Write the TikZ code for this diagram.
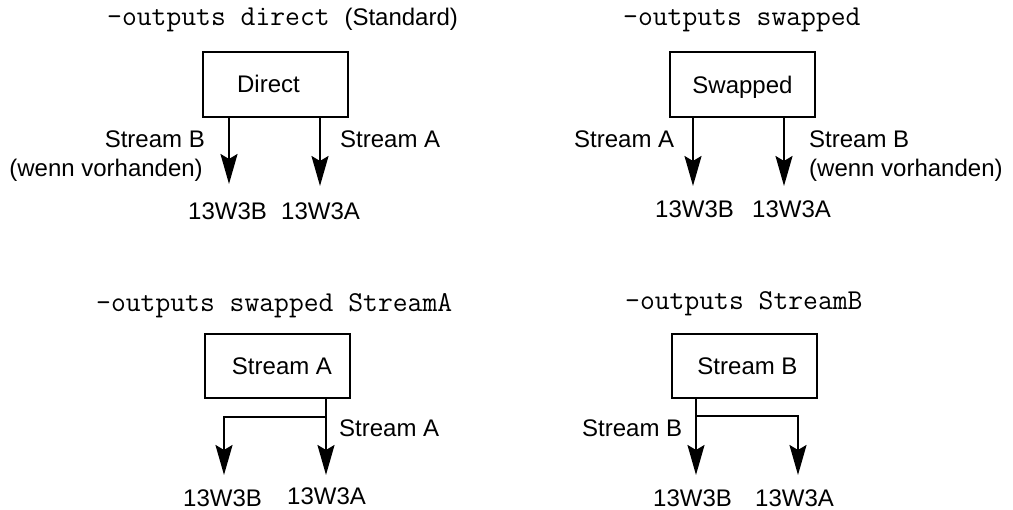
\documentclass[tikz,border=0pt]{standalone}
\usepackage{fontspec}
\setmainfont{Liberation Sans}
\usetikzlibrary{arrows.meta}
\newcommand{\monofnt}{\fontsize{28.8}{30}\selectfont\ttfamily}
\begin{document}
\begin{tikzpicture}[x=1pt,y=-1pt,
  txt/.style={inner sep=0pt, font=\fontsize{24}{28}\selectfont},
  ttl/.style={inner sep=0pt, anchor=base west, font=\fontsize{24}{28}\selectfont},
  mono/.style={font=\monofnt},
  boxnode/.style={draw, line width=2pt, minimum width=145pt, minimum height=65pt, inner sep=0pt,
    text height=17pt, text depth=0pt, font=\fontsize{24}{28}\selectfont},
  arr/.style={line width=2pt, -{Stealth[length=30pt,width=17pt,inset=5pt]}},
  ln/.style={line width=2pt}
]
\useasboundingbox (0,0) rectangle (1013,510);

% ---------- Panel 1: direct ----------
\node[ttl] (t1) at (107,26) {{\monofnt -outputs direct }(Standard)};
\node[boxnode] (b1) at (275.5,84.5) {Direct\kern14pt};
\coordinate (p1b) at (229,184);
\coordinate (p1a) at (320,186);
\draw[arr] (b1.south -| p1b) -- (p1b);
\draw[arr] (b1.south -| p1a) -- (p1a);
\node[txt, anchor=base east] (l1b) at (205,148) {Stream B};
\node[txt, anchor=base east] (l1w) at (203,177) {(wenn vorhanden)};
\node[txt, anchor=base west] (l1a) at (340,148) {Stream A};
\node[txt, anchor=base west] (o1b) at (188,220) {13W3B};
\node[txt, anchor=base west] (o1a) at (281,220) {13W3A};

% ---------- Panel 2: swapped ----------
\node[ttl, mono] (t2) at (623,26) {-outputs swapped};
\node[boxnode] (b2) at (742.5,85) {Swapped};
\coordinate (p2b) at (693,186);
\coordinate (p2a) at (784,186);
\draw[arr] (b2.south -| p2b) -- (p2b);
\draw[arr] (b2.south -| p2a) -- (p2a);
\node[txt, anchor=base west] (l2a) at (574,148) {Stream A};
\node[txt, anchor=base west] (l2b) at (809,148) {Stream B};
\node[txt, anchor=base west] (l2w) at (809,177) {(wenn vorhanden)};
\node[txt, anchor=base west] (o2b) at (655,218) {13W3B};
\node[txt, anchor=base west] (o2a) at (752,218) {13W3A};

% ---------- Panel 3: swapped StreamA ----------
\node[ttl, mono] (t3) at (96,312) {-outputs swapped StreamA};
\node[boxnode, minimum height=64pt] (b3) at (277.5,366) {\hspace{9pt}Stream A};
\coordinate (p3a) at (326,475);
\coordinate (p3j) at (326,417);
\coordinate (p3b) at (224,475);
\draw[arr] (b3.south -| p3a) -- (p3a);
\draw[arr] (p3j) -| (p3b);
\node[txt, anchor=base west] (l3a) at (339,437) {Stream A};
\node[txt, anchor=base west] (o3b) at (183,507) {13W3B};
\node[txt, anchor=base west] (o3a) at (287,505) {13W3A};

% ---------- Panel 4: StreamB ----------
\node[ttl, mono] (t4) at (625,310) {-outputs StreamB};
\node[boxnode, minimum height=64pt] (b4) at (744.5,366) {\hspace{6pt}Stream B};
\coordinate (p4b) at (696,475);
\coordinate (p4j) at (696,416);
\coordinate (p4a) at (798,475);
\draw[arr] (b4.south -| p4b) -- (p4b);
\draw[arr] (p4j) -| (p4a);
\node[txt, anchor=base west] (l4b) at (582,437) {Stream B};
\node[txt, anchor=base west] (o4b) at (653,507) {13W3B};
\node[txt, anchor=base west] (o4a) at (755,507) {13W3A};
\end{tikzpicture}
\end{document}
